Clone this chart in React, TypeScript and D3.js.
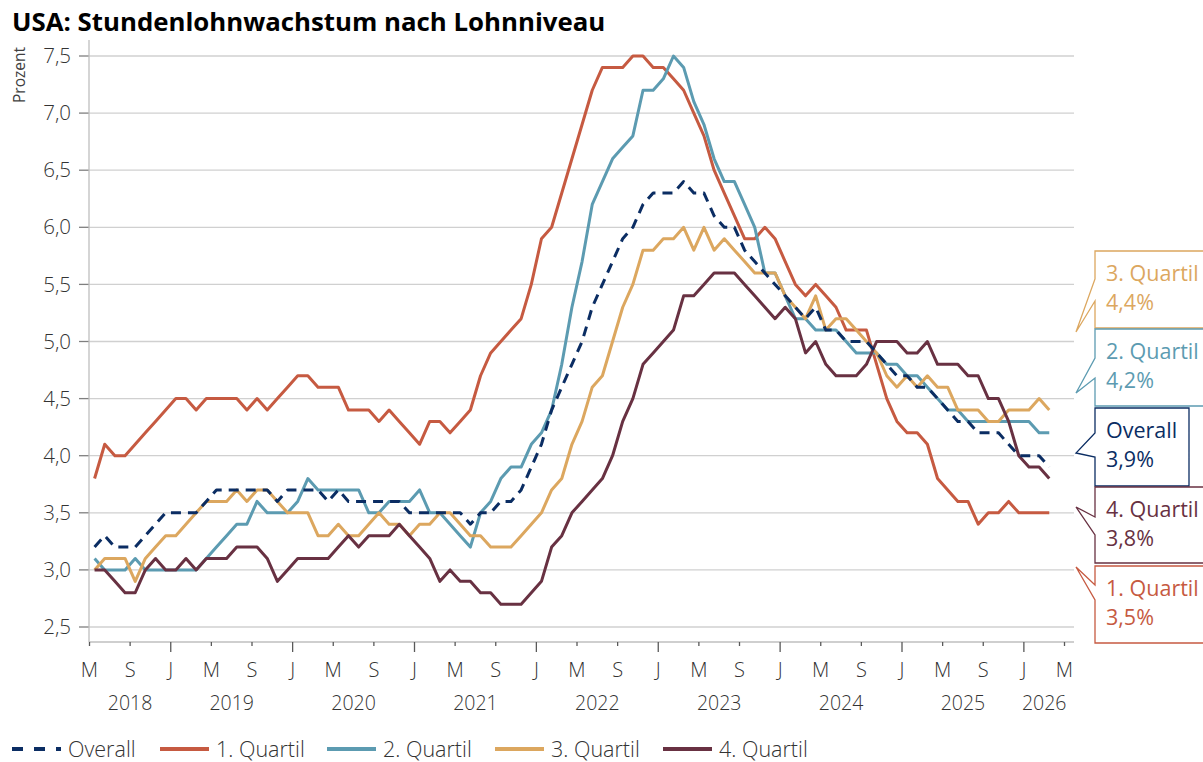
import React from 'react';
import * as d3 from 'd3';

// monthly values, May 2018 .. Mar 2026 (3-month averages, percent)
const startMonth = new Date(2018, 4, 1);
const endMonth = new Date(2026, 4, 1);
const months = d3.timeMonth.range(startMonth, new Date(2026, 3, 1));

const overall = [
  3.2, 3.3, 3.2, 3.2, 3.2, 3.3, 3.4, 3.5, 3.5, 3.5,
  3.5, 3.6, 3.7, 3.7, 3.7, 3.7, 3.7, 3.7, 3.6, 3.7,
  3.7, 3.7, 3.7, 3.6, 3.7, 3.6, 3.6, 3.6, 3.6, 3.6,
  3.6, 3.5, 3.5, 3.5, 3.5, 3.5, 3.5, 3.4, 3.5, 3.5,
  3.6, 3.6, 3.7, 3.9, 4.1, 4.4, 4.6, 4.8, 5.0, 5.3,
  5.5, 5.7, 5.9, 6.0, 6.2, 6.3, 6.3, 6.3, 6.4, 6.3,
  6.3, 6.1, 6.0, 6.0, 5.8, 5.7, 5.6, 5.5, 5.4, 5.3,
  5.2, 5.3, 5.1, 5.1, 5.0, 5.0, 5.0, 4.9, 4.8, 4.7,
  4.7, 4.6, 4.6, 4.5, 4.4, 4.3, 4.3, 4.2, 4.2, 4.2,
  4.1, 4.0, 4.0, 4.0, 3.9,
];
const quartil1 = [
  3.8, 4.1, 4.0, 4.0, 4.1, 4.2, 4.3, 4.4, 4.5, 4.5,
  4.4, 4.5, 4.5, 4.5, 4.5, 4.4, 4.5, 4.4, 4.5, 4.6,
  4.7, 4.7, 4.6, 4.6, 4.6, 4.4, 4.4, 4.4, 4.3, 4.4,
  4.3, 4.2, 4.1, 4.3, 4.3, 4.2, 4.3, 4.4, 4.7, 4.9,
  5.0, 5.1, 5.2, 5.5, 5.9, 6.0, 6.3, 6.6, 6.9, 7.2,
  7.4, 7.4, 7.4, 7.5, 7.5, 7.4, 7.4, 7.3, 7.2, 7.0,
  6.8, 6.5, 6.3, 6.1, 5.9, 5.9, 6.0, 5.9, 5.7, 5.5,
  5.4, 5.5, 5.4, 5.3, 5.1, 5.1, 5.1, 4.8, 4.5, 4.3,
  4.2, 4.2, 4.1, 3.8, 3.7, 3.6, 3.6, 3.4, 3.5, 3.5,
  3.6, 3.5, 3.5, 3.5, 3.5,
];
const quartil2 = [
  3.1, 3.0, 3.0, 3.0, 3.1, 3.0, 3.0, 3.0, 3.0, 3.0,
  3.0, 3.1, 3.2, 3.3, 3.4, 3.4, 3.6, 3.5, 3.5, 3.5,
  3.6, 3.8, 3.7, 3.7, 3.7, 3.7, 3.7, 3.5, 3.5, 3.6,
  3.6, 3.6, 3.7, 3.5, 3.5, 3.4, 3.3, 3.2, 3.5, 3.6,
  3.8, 3.9, 3.9, 4.1, 4.2, 4.4, 4.8, 5.3, 5.7, 6.2,
  6.4, 6.6, 6.7, 6.8, 7.2, 7.2, 7.3, 7.5, 7.4, 7.1,
  6.9, 6.6, 6.4, 6.4, 6.2, 6.0, 5.6, 5.6, 5.4, 5.2,
  5.2, 5.1, 5.1, 5.1, 5.0, 4.9, 4.9, 4.9, 4.8, 4.8,
  4.7, 4.7, 4.6, 4.5, 4.4, 4.4, 4.3, 4.3, 4.3, 4.3,
  4.3, 4.3, 4.3, 4.2, 4.2,
];
const quartil3 = [
  3.0, 3.1, 3.1, 3.1, 2.9, 3.1, 3.2, 3.3, 3.3, 3.4,
  3.5, 3.6, 3.6, 3.6, 3.7, 3.6, 3.7, 3.7, 3.6, 3.5,
  3.5, 3.5, 3.3, 3.3, 3.4, 3.3, 3.3, 3.4, 3.5, 3.4,
  3.4, 3.3, 3.4, 3.4, 3.5, 3.5, 3.4, 3.3, 3.3, 3.2,
  3.2, 3.2, 3.3, 3.4, 3.5, 3.7, 3.8, 4.1, 4.3, 4.6,
  4.7, 5.0, 5.3, 5.5, 5.8, 5.8, 5.9, 5.9, 6.0, 5.8,
  6.0, 5.8, 5.9, 5.8, 5.7, 5.6, 5.6, 5.6, 5.4, 5.3,
  5.2, 5.4, 5.1, 5.2, 5.2, 5.1, 5.0, 4.9, 4.7, 4.6,
  4.7, 4.6, 4.7, 4.6, 4.6, 4.4, 4.4, 4.4, 4.3, 4.3,
  4.4, 4.4, 4.4, 4.5, 4.4,
];
const quartil4 = [
  3.0, 3.0, 2.9, 2.8, 2.8, 3.0, 3.1, 3.0, 3.0, 3.1,
  3.0, 3.1, 3.1, 3.1, 3.2, 3.2, 3.2, 3.1, 2.9, 3.0,
  3.1, 3.1, 3.1, 3.1, 3.2, 3.3, 3.2, 3.3, 3.3, 3.3,
  3.4, 3.3, 3.2, 3.1, 2.9, 3.0, 2.9, 2.9, 2.8, 2.8,
  2.7, 2.7, 2.7, 2.8, 2.9, 3.2, 3.3, 3.5, 3.6, 3.7,
  3.8, 4.0, 4.3, 4.5, 4.8, 4.9, 5.0, 5.1, 5.4, 5.4,
  5.5, 5.6, 5.6, 5.6, 5.5, 5.4, 5.3, 5.2, 5.3, 5.2,
  4.9, 5.0, 4.8, 4.7, 4.7, 4.7, 4.8, 5.0, 5.0, 5.0,
  4.9, 4.9, 5.0, 4.8, 4.8, 4.8, 4.7, 4.7, 4.5, 4.5,
  4.3, 4.0, 3.9, 3.9, 3.8,
];

const yTicks = [2.5, 3.0, 3.5, 4.0, 4.5, 5.0, 5.5, 6.0, 6.5, 7.0, 7.5];
const monthInitials = ['J', 'F', 'M', 'A', 'M', 'J', 'J', 'A', 'S', 'O', 'N', 'D'];
const years = [2018, 2019, 2020, 2021, 2022, 2023, 2024, 2025, 2026];

const series = [
  { name: 'Overall', values: overall, color: '#0b2d63', dashed: true },
  { name: '1. Quartil', values: quartil1, color: '#c65a41', dashed: false },
  { name: '2. Quartil', values: quartil2, color: '#5c9bb1', dashed: false },
  { name: '3. Quartil', values: quartil3, color: '#dca75f', dashed: false },
  { name: '4. Quartil', values: quartil4, color: '#683142', dashed: false },
];

// callout slots on the right, top to bottom
const calloutSlots = [
  { top: 251, bottom: 328, a1: 279, a2: 301, tipY: 332, right: 1215 },
  { top: 329, bottom: 406, a1: 358, a2: 378, tipY: 393, right: 1215 },
  { top: 408, bottom: 486, a1: 433, a2: 457, tipY: 453, right: 1189 },
  { top: 487, bottom: 563, a1: 517, a2: 535, tipY: 507, right: 1215 },
  { top: 566, bottom: 643, a1: 585, a2: 600, tipY: 567, right: 1215 },
];

const de = d3.formatLocale({ decimal: ',', thousands: '.', grouping: [3], currency: ['', ' €'] });
const fmt1 = de.format('.1f');

const font = "'Open Sans', 'Noto Sans', sans-serif";

const App = () => {
  const width = 1203;
  const height = 762;
  const left = 89;
  const axisY = 642;
  const gridRight = 1074;

  const nMonths = d3.timeMonth.count(startMonth, endMonth);
  const x = d3.scaleLinear().domain([0, nMonths]).range([89.5, 1064.5]);
  const y = d3.scaleLinear().domain([2.5, 7.5]).range([627, 56]);
  const idx = (d: Date) => d3.timeMonth.count(startMonth, d);

  const line = d3
    .line<number>()
    .x((d, i) => x(idx(months[i]) + 0.5))
    .y((d) => y(d));

  const xTicks = d3.timeMonth.every(4)!.range(startMonth, d3.timeDay.offset(endMonth, 1));

  const yearSpans = years.map((yr) => {
    const a = Math.max(0, idx(new Date(yr, 0, 1)));
    const b = Math.min(nMonths, idx(new Date(yr + 1, 0, 1)));
    return { yr, center: (a + b) / 2 };
  });

  const sorted = [...series].sort(
    (a, b) => b.values[b.values.length - 1] - a.values[a.values.length - 1]
  );

  const legendX = [12, 160, 327, 495, 663];

  return (
    <svg width={width} height={height} style={{ position: 'absolute', left: 0, top: 0 }} fontFamily={font}>
      <rect width={width} height={height} fill="#fff" />
      <text x={12} y={31} fontSize={25.8} fontWeight={700} fill="#000">
        USA: Stundenlohnwachstum nach Lohnniveau
      </text>
      <text transform="translate(25,75) rotate(-90)" textAnchor="middle" fontSize={15.5} fill="#404040">
        Prozent
      </text>

      {/* grid + y axis */}
      {yTicks.map((t) => (
        <g key={t}>
          <line x1={left} x2={gridRight} y1={y(t)} y2={y(t)} stroke="#d0d0d0" strokeWidth={1.3} />
          <line x1={79} x2={left} y1={y(t)} y2={y(t)} stroke="#7f7f7f" strokeWidth={1.3} />
          <text x={71} y={y(t)} dy="0.35em" textAnchor="end" fontSize={20.5} fill="#333" fontWeight={300}>
            {fmt1(t)}
          </text>
        </g>
      ))}
      <line x1={left} x2={left} y1={40} y2={axisY} stroke="#bfbfbf" strokeWidth={1.3} />
      <line x1={left} x2={gridRight} y1={axisY} y2={axisY} stroke="#bfbfbf" strokeWidth={1.3} />

      {/* x axis */}
      {xTicks.map((d) => {
        const xi = x(idx(d));
        const major = d.getMonth() === 0;
        return (
          <g key={+d}>
            <line x1={xi} x2={xi} y1={axisY} y2={axisY + (major ? 10 : 4)} stroke="#595959" strokeWidth={1.3} />
            <text x={xi} y={677} textAnchor="middle" fontSize={20} fill="#333" fontWeight={300}>
              {monthInitials[d.getMonth()]}
            </text>
          </g>
        );
      })}
      {yearSpans.map((s) => (
        <text key={s.yr} x={x(s.center)} y={710} textAnchor="middle" fontSize={19.5} fill="#333" fontWeight={300}>
          {s.yr}
        </text>
      ))}

      {/* series */}
      {series.slice(1).concat(series.slice(0, 1)).map((s) => (
        <path
          key={s.name}
          d={line(s.values) || ''}
          fill="none"
          stroke={s.color}
          strokeWidth={3}
          strokeLinejoin="round"
          strokeDasharray={s.dashed ? '10,7' : undefined}
        />
      ))}

      {/* callouts */}
      {sorted.map((s, k) => {
        const c = calloutSlots[k];
        const bx = 1095;
        const tipX = 1076;
        const d = `M${bx},${c.top}L${c.right},${c.top}L${c.right},${c.bottom}L${bx},${c.bottom}L${bx},${c.a2}L${tipX},${c.tipY}L${bx},${c.a1}Z`;
        return (
          <g key={s.name}>
            <path d={d} fill="#fff" stroke={s.color} strokeWidth={1.3} />
            <text x={1106} y={c.top + 30} fontSize={21.5} fill={s.color}>
              {s.name}
            </text>
            <text x={1106} y={c.top + 59} fontSize={21.5} fill={s.color}>
              {fmt1(s.values[s.values.length - 1])}%
            </text>
          </g>
        );
      })}

      {/* legend */}
      {series.map((s, k) => (
        <g key={s.name} transform={`translate(${legendX[k]},749)`}>
          <line
            x1={0}
            x2={49}
            y1={0}
            y2={0}
            stroke={s.color}
            strokeWidth={4}
            strokeDasharray={s.dashed ? '11,11' : undefined}
          />
          <text x={56} y={0} dy="0.35em" fontSize={21.5} fill="#333" fontWeight={300}>
            {s.name}
          </text>
        </g>
      ))}
    </svg>
  );
};

export default App;
